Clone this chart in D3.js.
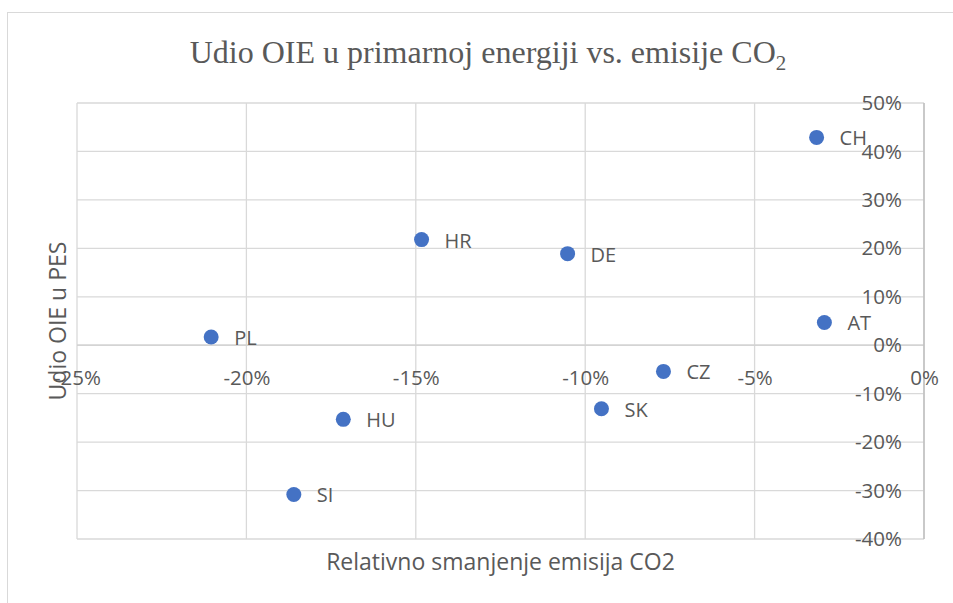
<html>
    <head>
        <meta charset="utf-8">
        <title>Udio OIE vs emisije CO2</title>
        <script type="text/javascript" src="https://cdn.jsdelivr.net/npm/d3@7"></script>
        <style>
            body { margin: 0; background: white; }
            text { fill: #595959; }
        </style>
    </head>
    <body>
        <script type="text/javascript">
            // country codes and values
            let countries = ["PL", "HR", "DE", "CZ", "SK", "HU", "SI", "CH", "AT"]
            let co2_change = [-0.2104, -0.1483, -0.1052, -0.0769, -0.0952, -0.1714, -0.1860, -0.0317, -0.0294]
            let res_share = [0.017, 0.218, 0.189, -0.054, -0.131, -0.153, -0.308, 0.429, 0.047]
            let x_ticks = [-0.25, -0.20, -0.15, -0.10, -0.05, 0]
            let y_ticks = [-0.4, -0.3, -0.2, -0.1, 0, 0.1, 0.2, 0.3, 0.4, 0.5]

            let w = 953
            let h = 603
            let pl = 77, pr = 924, pt = 103, pb = 539
            let font = "'Open Sans', sans-serif"

            let svg = d3.select("body")
                        .append("svg")
                        .attr("width", w)
                        .attr("height", h)

            // outer chart border (only top and left visible)
            svg.append("rect")
               .attr("x", 7.5).attr("y", 12.5)
               .attr("width", w + 20).attr("height", h + 20)
               .attr("fill", "white")
               .attr("stroke", "#d9d9d9")

            let x_scale = d3.scaleLinear()
                            .domain([-0.25, 0])
                            .range([pl, pr])
            let y_scale = d3.scaleLinear()
                            .domain([-0.4, 0.5])
                            .range([pb, pt])

            // excel style percent with a plain hyphen
            let pct = function(d) {
                return Math.round(d * 100) + "%"
            }

            // gridlines
            svg.append("g")
               .selectAll("line")
               .data(x_ticks)
               .enter()
               .append("line")
               .attr("x1", (d)=>{return x_scale(d)})
               .attr("x2", (d)=>{return x_scale(d)})
               .attr("y1", pt)
               .attr("y2", pb)
               .attr("stroke", "#d9d9d9")
               .attr("stroke-width", 1.3)
            svg.append("g")
               .selectAll("line")
               .data(y_ticks)
               .enter()
               .append("line")
               .attr("x1", pl)
               .attr("x2", pr)
               .attr("y1", (d)=>{return y_scale(d)})
               .attr("y2", (d)=>{return y_scale(d)})
               .attr("stroke", "#d9d9d9")
               .attr("stroke-width", 1.3)

            // axis lines cross at zero
            svg.append("line")
               .attr("x1", pl).attr("x2", pr)
               .attr("y1", y_scale(0)).attr("y2", y_scale(0))
               .attr("stroke", "#cfcfcf")
               .attr("stroke-width", 1.3)
            svg.append("line")
               .attr("x1", x_scale(0)).attr("x2", x_scale(0))
               .attr("y1", pt).attr("y2", pb)
               .attr("stroke", "#bfbfbf")
               .attr("stroke-width", 1.5)

            let x_axis = d3.axisBottom()
                           .scale(x_scale)
                           .tickValues(x_ticks)
                           .tickFormat(pct)
                           .tickSize(0)
            let gx = svg.append("g")
                        .attr("transform", "translate(0," + y_scale(0) + ")")
                        .call(x_axis)
            gx.select(".domain").remove()
            gx.selectAll("text")
              .attr("y", 33)
              .attr("dy", "0.35em")
              .attr("fill", "#595959")
              .style("font-family", font)
              .style("font-size", "20.5px")

            let y_axis = d3.axisLeft()
                           .scale(y_scale)
                           .tickValues(y_ticks)
                           .tickFormat(pct)
                           .tickSize(0)
                           .tickPadding(22)
            let gy = svg.append("g")
                        .attr("transform", "translate(" + x_scale(0) + ",0)")
                        .call(y_axis)
            gy.select(".domain").remove()
            gy.selectAll("text")
              .attr("fill", "#595959")
              .style("font-family", font)
              .style("font-size", "20.5px")

            // points
            let points = countries.map((c, i)=>{
                return {name: c, x: co2_change[i], y: res_share[i]}
            })
            svg.selectAll("circle.pt")
               .data(points)
               .enter()
               .append("circle")
               .attr("class", "pt")
               .attr("cx", (d)=>{return x_scale(d.x)})
               .attr("cy", (d)=>{return y_scale(d.y)})
               .attr("r", 7.5)
               .attr("fill", "#4472c4")
            svg.selectAll("text.lbl")
               .data(points)
               .enter()
               .append("text")
               .attr("class", "lbl")
               .attr("x", (d)=>{return x_scale(d.x) + 23})
               .attr("y", (d)=>{return y_scale(d.y) + 1})
               .attr("dy", "0.35em")
               .style("font-family", font)
               .style("font-size", "20px")
               .text((d)=>{return d.name})

            // titles
            let title = svg.append("text")
                           .attr("x", 488)
                           .attr("y", 63)
                           .attr("text-anchor", "middle")
                           .style("font-family", "'Liberation Serif', 'Times New Roman', serif")
                           .style("font-size", "32px")
            title.append("tspan").text("Udio OIE u primarnoj energiji vs. emisije CO")
            title.append("tspan").attr("dy", 7).style("font-size", "21px").text("2")

            svg.append("text")
               .attr("x", (pl + pr) / 2)
               .attr("y", 562)
               .attr("dy", "0.35em")
               .attr("text-anchor", "middle")
               .style("font-family", font)
               .style("font-size", "23px")
               .text("Relativno smanjenje emisija CO2")

            svg.append("text")
               .attr("transform", "translate(58," + ((pt + pb) / 2) + ") rotate(-90)")
               .attr("dy", "0.35em")
               .attr("text-anchor", "middle")
               .style("font-family", font)
               .style("font-size", "23px")
               .text("Udio OIE u PES")
        </script>
    </body>
</html>
